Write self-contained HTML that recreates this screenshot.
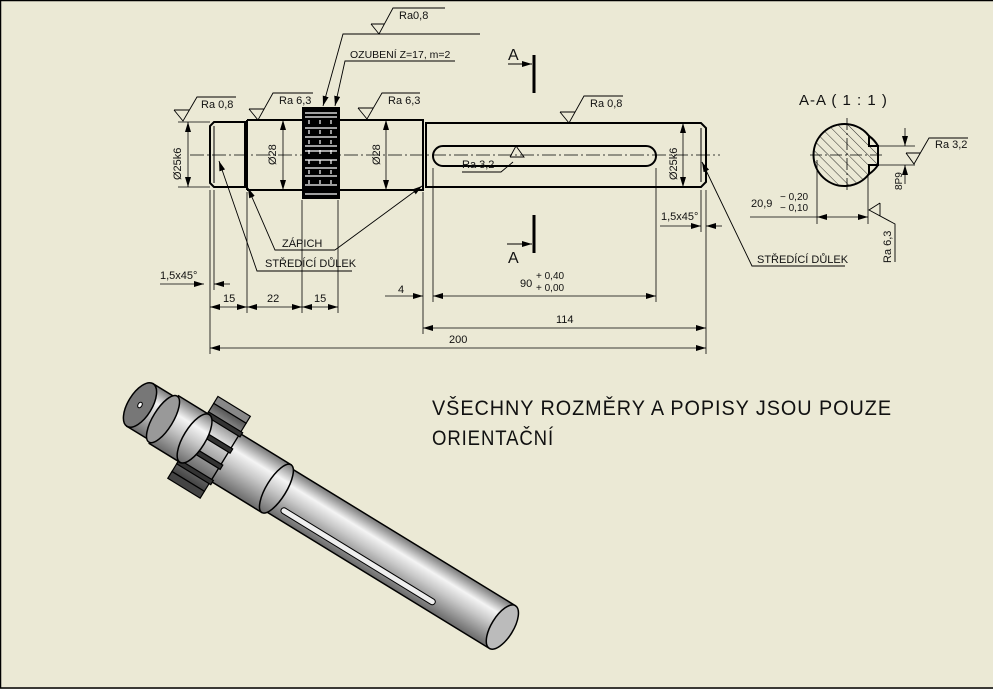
<!DOCTYPE html>
<html><head><meta charset="utf-8"><style>
html,body{margin:0;padding:0;background:#ebe9d5;}
svg{display:block;}
text{font-family:"Liberation Sans",sans-serif;fill:#111;}
</style></head><body>
<svg width="993" height="689" viewBox="0 0 993 689" xmlns="http://www.w3.org/2000/svg">
<defs>
<marker id="ar" viewBox="0 0 10 6" refX="10" refY="3" markerWidth="10" markerHeight="6" orient="auto" markerUnits="userSpaceOnUse"><path d="M0,0 L10,3 L0,6 z" fill="#000"/></marker>
<marker id="al" viewBox="0 0 10 6" refX="0" refY="3" markerWidth="10" markerHeight="6" orient="auto" markerUnits="userSpaceOnUse"><path d="M10,0 L0,3 L10,6 z" fill="#000"/></marker>
<pattern id="hatch" width="7" height="7" patternUnits="userSpaceOnUse" patternTransform="rotate(-45)"><line x1="0" y1="0" x2="0" y2="7" stroke="#000" stroke-width="0.8"/></pattern>
<linearGradient id="cyl" x1="0" y1="0" x2="0" y2="1"><stop offset="0" stop-color="#7a7a7a"/><stop offset="0.3" stop-color="#f4f4f4"/><stop offset="0.55" stop-color="#c8c8c8"/><stop offset="1" stop-color="#6a6a6a"/></linearGradient>
<linearGradient id="gear" x1="0" y1="0" x2="0" y2="1"><stop offset="0" stop-color="#555"/><stop offset="0.35" stop-color="#ddd"/><stop offset="1" stop-color="#444"/></linearGradient>
</defs>
<rect x="0.5" y="0.5" width="1000" height="687.5" fill="none" stroke="#000" stroke-width="1.5"/>

<!-- shaft -->
<g stroke="#000" stroke-width="2" fill="none">
<path d="M214,122 L245,122 L245,187 L214,187 L210,183 L210,126 Z"/>
<path d="M247,120 L302,120 M247,190 L302,190 M247,120 L247,190"/>
<path d="M340,120 L423,120 L423,190 L340,190"/>
<path d="M426,123 L701,123 L706,128 L706,182 L701,187 L426,187 Z"/>
<line x1="245" y1="122" x2="247" y2="122"/>
<rect x="433" y="146" width="223" height="20" rx="10"/>
</g>
<line x1="214" y1="126" x2="214" y2="183" stroke="#000" stroke-width="1"/>
<line x1="701" y1="128" x2="701" y2="182" stroke="#000" stroke-width="1"/>
<rect x="302" y="107" width="38" height="92" fill="#000"/>
<g stroke="#fff" stroke-width="1.2">
<line x1="305" y1="113" x2="337" y2="113"/><line x1="305" y1="117" x2="337" y2="117"/>
<line x1="305" y1="128" x2="337" y2="128"/><line x1="305" y1="137" x2="337" y2="137"/>
<line x1="305" y1="146" x2="337" y2="146"/><line x1="305" y1="151" x2="337" y2="151"/>
<line x1="305" y1="160" x2="337" y2="160"/><line x1="305" y1="168" x2="337" y2="168"/>
<line x1="305" y1="176" x2="337" y2="176"/><line x1="305" y1="185" x2="337" y2="185"/>
<line x1="305" y1="194" x2="337" y2="194"/>
<line x1="309" y1="120" x2="309" y2="190" stroke-dasharray="4,6"/>
<line x1="320" y1="120" x2="320" y2="190" stroke-dasharray="4,6"/>
<line x1="331" y1="120" x2="331" y2="190" stroke-dasharray="4,6"/>
</g>
<line x1="190" y1="155" x2="720" y2="155" stroke="#000" stroke-width="0.8" stroke-dasharray="14,3,2,3"/>

<!-- diameter dims -->
<g stroke="#000" stroke-width="0.8">
<line x1="178" y1="122" x2="210" y2="122"/><line x1="178" y1="187" x2="210" y2="187"/>
<line x1="188" y1="122" x2="188" y2="187" marker-start="url(#al)" marker-end="url(#ar)"/>
<line x1="283" y1="120" x2="283" y2="190" marker-start="url(#al)" marker-end="url(#ar)"/>
<line x1="386" y1="120" x2="386" y2="190" marker-start="url(#al)" marker-end="url(#ar)"/>
<line x1="683" y1="123" x2="683" y2="187" marker-start="url(#al)" marker-end="url(#ar)"/>
</g>
<g font-size="11">
<text transform="translate(181,180) rotate(-90)">Ø25k6</text>
<text transform="translate(276,165) rotate(-90)">Ø28</text>
<text transform="translate(380,165) rotate(-90)">Ø28</text>
<text transform="translate(677,180) rotate(-90)">Ø25k6</text>
</g>

<!-- extension lines -->
<g stroke="#000" stroke-width="0.8">
<line x1="210" y1="190" x2="210" y2="354"/>
<line x1="214" y1="190" x2="214" y2="290"/>
<line x1="247" y1="192" x2="247" y2="313"/>
<line x1="302" y1="200" x2="302" y2="313"/>
<line x1="338" y1="200" x2="338" y2="313"/>
<line x1="423" y1="192" x2="423" y2="334"/>
<line x1="433" y1="168" x2="433" y2="302"/>
<line x1="656" y1="168" x2="656" y2="302"/>
<line x1="701" y1="190" x2="701" y2="232"/>
<line x1="706" y1="190" x2="706" y2="354"/>
<line x1="210" y1="307" x2="247" y2="307" marker-start="url(#al)" marker-end="url(#ar)"/>
<line x1="247" y1="307" x2="302" y2="307" marker-start="url(#al)" marker-end="url(#ar)"/>
<line x1="302" y1="307" x2="338" y2="307" marker-start="url(#al)" marker-end="url(#ar)"/>
<line x1="160" y1="284" x2="204" y2="284" marker-end="url(#ar)"/>
<line x1="230" y1="284" x2="214" y2="284" marker-end="url(#ar)"/>
<line x1="385" y1="296" x2="423" y2="296" marker-end="url(#ar)"/>
<line x1="433" y1="296" x2="656" y2="296" marker-start="url(#al)" marker-end="url(#ar)"/>
<line x1="423" y1="328" x2="706" y2="328" marker-start="url(#al)" marker-end="url(#ar)"/>
<line x1="210" y1="348" x2="706" y2="348" marker-start="url(#al)" marker-end="url(#ar)"/>
<line x1="660" y1="226" x2="701" y2="226" marker-end="url(#ar)"/>
<line x1="722" y1="226" x2="706" y2="226" marker-end="url(#ar)"/>
</g>
<g font-size="11">
<text x="223" y="302">15</text><text x="267" y="302">22</text><text x="314" y="302">15</text>
<text x="160" y="279">1,5x45°</text>
<text x="398" y="293">4</text>
<text x="520" y="287">90</text><text x="536" y="279" font-size="10">+ 0,40</text><text x="536" y="291" font-size="10">+ 0,00</text>
<text x="556" y="323">114</text>
<text x="449" y="343">200</text>
<text x="661" y="220">1,5x45°</text>
</g>

<!-- section markers -->
<g stroke="#000">
<line x1="534" y1="55" x2="534" y2="93" stroke-width="3"/>
<line x1="508" y1="64" x2="532" y2="64" stroke-width="1" marker-end="url(#ar)"/>
<line x1="534" y1="215" x2="534" y2="253" stroke-width="3"/>
<line x1="507" y1="244" x2="532" y2="244" stroke-width="1" marker-end="url(#ar)"/>
</g>
<text x="508" y="60" font-size="16">A</text>
<text x="508" y="263" font-size="16">A</text>

<!-- surface roughness symbols -->
<g stroke="#000" stroke-width="0.9" fill="none">
<path d="M174,110 L183,121 L197,97 L236,97 M174,110 L189.4,110"/>
<path d="M249,109 L258,120 L273,93 L313,93 M249,109 L264,109"/>
<path d="M358,108 L367,119 L382,93 L420,93 M358,108 L373,108"/>
<path d="M560,112 L569,123 L584,96 L623,96 M560,112 L575,112"/>
<path d="M371,24 L379,34 L393,8 L445,8 M371,24 L384.4,24"/>
<path d="M510,157 L524,157 L516,146 L510,157 M513,162 L501,172 L462,172"/>
<path d="M480,34 L343,34 L323,106" marker-end="url(#ar)"/>
<path d="M455,61 L345,61 L335,106" marker-end="url(#ar)"/>
<path d="M335,250 L275,250 L248,188" marker-end="url(#ar)"/>
<path d="M335,250 L422,186" marker-end="url(#ar)"/>
<path d="M352,271 L257,271 L219,161" marker-end="url(#ar)"/>
<path d="M845,266 L752,266 L702,162" marker-end="url(#ar)"/>
</g>
<g font-size="11">
<text x="201" y="108">Ra 0,8</text>
<text x="279" y="104">Ra 6,3</text>
<text x="388" y="104">Ra 6,3</text>
<text x="590" y="107">Ra 0,8</text>
<text x="399" y="19">Ra0,8</text>
<text x="350" y="58" font-size="10.5">OZUBENÍ Z=17, m=2</text>
<text x="462" y="168">Ra 3,2</text>
<text x="282" y="247">ZÁPICH</text>
<text x="265" y="267">STŘEDÍCÍ DŮLEK</text>
<text x="757" y="263">STŘEDÍCÍ DŮLEK</text>
</g>

<!-- section A-A -->
<text x="799" y="105" font-size="15" letter-spacing="1">A-A ( 1 : 1 )</text>
<path d="M869,136 A31,31 0 1 0 869,174 L869,165 L878,165 L878,146 L869,146 Z" fill="url(#hatch)" stroke="#000" stroke-width="2"/>
<path d="M869,136 A31,31 0 0 1 878,146 M878,165 A31,31 0 0 1 869,174" fill="none" stroke="#000" stroke-width="2"/>
<g stroke="#000" stroke-width="0.8">
<line x1="810" y1="155" x2="885" y2="155" stroke-dasharray="12,3,2,3"/>
<line x1="847" y1="118" x2="847" y2="192" stroke-dasharray="12,3,2,3"/>
<line x1="878" y1="146" x2="915" y2="146"/><line x1="878" y1="165" x2="915" y2="165"/>
<line x1="905" y1="128" x2="905" y2="146" marker-end="url(#ar)"/>
<line x1="905" y1="184" x2="905" y2="165" marker-end="url(#ar)"/>
<line x1="817" y1="160" x2="817" y2="224"/><line x1="868" y1="175" x2="868" y2="224"/>
<line x1="750" y1="217" x2="817" y2="217"/>
<line x1="817" y1="217" x2="868" y2="217" marker-start="url(#al)" marker-end="url(#ar)"/>
</g>
<g stroke="#000" stroke-width="0.9" fill="none">
<path d="M906,153 L914,164 L929,138 L968,138 M906,153 L920,153"/>
<path d="M880,203 L869,210 L895,224 L895,262 M880,203 L880,216"/>
</g>
<g font-size="11">
<text x="935" y="148">Ra 3,2</text>
<text transform="translate(902,190) rotate(-90)" font-size="10">8P9</text>
<text x="751" y="207">20,9</text>
<text x="780" y="200" font-size="10">− 0,20</text><text x="780" y="211" font-size="10">− 0,10</text>
<text transform="translate(891,263) rotate(-90)">Ra 6,3</text>
</g>

<!-- note -->
<text x="432" y="415" font-size="21" letter-spacing="1" textLength="460" lengthAdjust="spacingAndGlyphs" fill="#222">VŠECHNY ROZMĚRY A POPISY JSOU POUZE</text>
<text x="432" y="445" font-size="21" letter-spacing="1" textLength="122" lengthAdjust="spacingAndGlyphs" fill="#222">ORIENTAČNÍ</text>

<!-- 3D shaft -->
<g transform="translate(140,405) rotate(31.5)" stroke="#000" stroke-width="1.5">
<rect x="160" y="-25" width="265" height="50" fill="url(#cyl)"/>
<ellipse cx="425" cy="0" rx="11" ry="25" fill="#bbb"/>
<rect x="175" y="12" width="180" height="6" rx="3" fill="#eee" stroke-width="1"/>
<rect x="100" y="-28" width="60" height="56" fill="url(#cyl)"/>
<ellipse cx="160" cy="0" rx="10" ry="28" fill="url(#cyl)"/>
<g fill="url(#gear)" stroke-width="1.2">
<rect x="62" y="-40" width="38" height="80"/>
<rect x="62" y="-48" width="38" height="8" fill="#888"/>
<rect x="62" y="40" width="38" height="8" fill="#444"/>
<rect x="62" y="-30" width="40" height="5" fill="#333"/>
<rect x="62" y="-11" width="40" height="5" fill="#333"/>
<rect x="62" y="8" width="40" height="5" fill="#333"/>
<rect x="62" y="26" width="40" height="5" fill="#333"/>
</g>
<rect x="28" y="-28" width="36" height="56" fill="url(#cyl)"/>
<ellipse cx="64" cy="0" rx="11" ry="28" fill="url(#cyl)"/>
<rect x="0" y="-25" width="26" height="50" fill="url(#cyl)"/>
<ellipse cx="27" cy="0" rx="10" ry="27" fill="#999"/>
<ellipse cx="0" cy="0" rx="12" ry="25" fill="#777"/>
<ellipse cx="0" cy="0" rx="2" ry="3" fill="#fff" stroke-width="1"/>
</g>
</svg>
</body></html>
